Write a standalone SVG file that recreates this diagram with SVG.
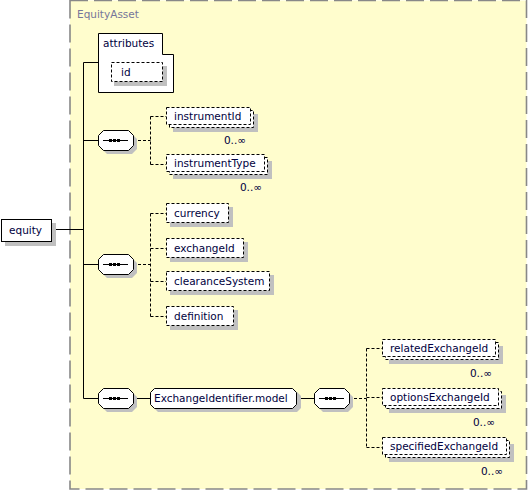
<svg xmlns="http://www.w3.org/2000/svg" width="528" height="491" viewBox="0 0 528 491">
<defs>
<style>
.t{font-family:"DejaVu Sans","Verdana",sans-serif;font-size:10.5px;fill:#000040}
.occ{font-family:"DejaVu Sans","Verdana",sans-serif;font-size:10.5px;fill:#000040;text-anchor:end}
.sh{fill:#c0c0c0;stroke:none}
.box{fill:#ffffff;stroke:#000000;stroke-width:1}
.opt{fill:#ffffff;stroke:#000000;stroke-width:1;stroke-dasharray:3 2}
.ln{stroke:#000000;stroke-width:1;fill:none}
.dln{stroke:#000000;stroke-width:1;fill:none;stroke-dasharray:3 2}
.dot{fill:#000000}
</style>
<path id="oct" d="M5,0 H30 L35,5 V15 L30,20 H5 L0,15 V5 Z"/>
</defs>
<rect width="528" height="491" fill="#ffffff"/>
<g id="EquityAsset">
<rect x="70" y="0.5" width="456.5" height="488.5" fill="#fffdcd" stroke="#888888" stroke-width="1.6" stroke-dasharray="18 6"/>
<text x="77" y="18" class="t" style="fill:#76769a">EquityAsset</text>
</g>
<g id="connectors">
<line x1="52" y1="229.5" x2="83.5" y2="229.5" class="ln"/>
<line x1="83.5" y1="62.5" x2="83.5" y2="398.5" class="ln"/>
<line x1="83.5" y1="62.5" x2="98" y2="62.5" class="ln"/>
<line x1="83.5" y1="140.5" x2="98" y2="140.5" class="ln"/>
<line x1="83.5" y1="264.5" x2="98" y2="264.5" class="ln"/>
<line x1="83.5" y1="398.5" x2="98" y2="398.5" class="ln"/>
<line x1="133" y1="140.5" x2="150.5" y2="140.5" class="dln"/>
<line x1="150.5" y1="116.5" x2="150.5" y2="164.5" class="dln"/>
<line x1="150.5" y1="116.5" x2="166" y2="116.5" class="dln"/>
<line x1="150.5" y1="164.5" x2="166" y2="164.5" class="dln"/>
<line x1="133" y1="264.5" x2="150.5" y2="264.5" class="dln"/>
<line x1="150.5" y1="213.5" x2="150.5" y2="316.5" class="dln"/>
<line x1="150.5" y1="213.5" x2="166" y2="213.5" class="dln"/>
<line x1="150.5" y1="248.5" x2="166" y2="248.5" class="dln"/>
<line x1="150.5" y1="281.5" x2="166" y2="281.5" class="dln"/>
<line x1="150.5" y1="316.5" x2="166" y2="316.5" class="dln"/>
<line x1="133" y1="398.5" x2="150" y2="398.5" class="ln"/>
<line x1="297" y1="398.5" x2="314" y2="398.5" class="ln"/>
<line x1="349" y1="398.5" x2="366.5" y2="398.5" class="dln"/>
<line x1="366.5" y1="348.5" x2="366.5" y2="447.5" class="dln"/>
<line x1="366.5" y1="348.5" x2="382" y2="348.5" class="dln"/>
<line x1="366.5" y1="397.5" x2="382" y2="397.5" class="dln"/>
<line x1="366.5" y1="447.5" x2="382" y2="447.5" class="dln"/>
</g>
<g id="equity">
<rect x="5" y="223" width="51" height="23" class="sh"/>
<rect x="1.5" y="219.5" width="50" height="22" class="box"/>
<text x="9" y="234" class="t">equity</text>
</g>
<g id="attributes">
<path d="M98.5,33.5 H162.5 V54.5 H173.5 V92.5 H98.5 Z" class="box"/>
<text x="103" y="47" class="t">attributes</text>
<g id="attr-id">
<rect x="114" y="66" width="53" height="20" class="sh"/>
<rect x="111.5" y="62.5" width="51" height="19" class="opt"/>
<text x="121" y="76" class="t">id</text>
</g>
</g>
<g id="seq1">
<use href="#oct" x="102" y="134" class="sh"/>
<use href="#oct" x="98.5" y="130.5" class="box"/>
<line x1="103" y1="140.5" x2="128" y2="140.5" class="ln"/>
<rect x="109" y="139" width="3" height="3" class="dot"/><rect x="113" y="139" width="3" height="3" class="dot"/><rect x="117" y="139" width="3" height="3" class="dot"/>
</g>
<g id="instrumentId">
<rect x="173" y="114" width="85" height="18" class="sh"/>
<rect x="169.5" y="110.5" width="84" height="17" class="opt"/>
<rect x="166.5" y="107.5" width="84" height="17" class="opt"/>
<text x="174" y="120" class="t">instrumentId</text>
<text x="246" y="144" class="occ">0..∞</text>
</g>
<g id="instrumentType">
<rect x="173" y="161" width="99" height="18" class="sh"/>
<rect x="169.5" y="157.5" width="98" height="17" class="opt"/>
<rect x="166.5" y="154.5" width="98" height="17" class="opt"/>
<text x="174" y="167" class="t">instrumentType</text>
<text x="262" y="191" class="occ">0..∞</text>
</g>
<g id="seq2">
<use href="#oct" x="102" y="258" class="sh"/>
<use href="#oct" x="98.5" y="254.5" class="box"/>
<line x1="103" y1="264.5" x2="128" y2="264.5" class="ln"/>
<rect x="109" y="263" width="3" height="3" class="dot"/><rect x="113" y="263" width="3" height="3" class="dot"/><rect x="117" y="263" width="3" height="3" class="dot"/>
</g>
<g id="currency">
<rect x="170" y="207" width="63" height="20" class="sh"/>
<rect x="166.5" y="203.5" width="62" height="19" class="opt"/>
<text x="174" y="217" class="t">currency</text>
</g>
<g id="exchangeId">
<rect x="170" y="242" width="78" height="20" class="sh"/>
<rect x="166.5" y="238.5" width="77" height="19" class="opt"/>
<text x="174" y="252" class="t">exchangeId</text>
</g>
<g id="clearanceSystem">
<rect x="170" y="275" width="104" height="20" class="sh"/>
<rect x="166.5" y="271.5" width="103" height="19" class="opt"/>
<text x="174" y="285" class="t">clearanceSystem</text>
</g>
<g id="definition">
<rect x="170" y="310" width="68" height="20" class="sh"/>
<rect x="166.5" y="306.5" width="67" height="19" class="opt"/>
<text x="174" y="320" class="t">definition</text>
</g>
<g id="seq3">
<use href="#oct" x="102" y="392" class="sh"/>
<use href="#oct" x="98.5" y="388.5" class="box"/>
<line x1="103" y1="398.5" x2="128" y2="398.5" class="ln"/>
<rect x="109" y="397" width="3" height="3" class="dot"/><rect x="113" y="397" width="3" height="3" class="dot"/><rect x="117" y="397" width="3" height="3" class="dot"/>
</g>
<g id="ExchangeIdentifier.model">
<path d="M158,392 H297 L301,396 V408 L297,412 H158 L154,408 V396 Z" class="sh"/>
<path d="M154.5,388.5 H292.5 L296.5,392.5 V404.5 L292.5,408.5 H154.5 L150.5,404.5 V392.5 Z" class="box"/>
<text x="154" y="402" class="t">ExchangeIdentifier.model</text>
</g>
<g id="seq4">
<use href="#oct" x="318" y="392" class="sh"/>
<use href="#oct" x="314.5" y="388.5" class="box"/>
<line x1="319" y1="398.5" x2="344" y2="398.5" class="ln"/>
<rect x="325" y="397" width="3" height="3" class="dot"/><rect x="329" y="397" width="3" height="3" class="dot"/><rect x="333" y="397" width="3" height="3" class="dot"/>
</g>
<g id="relatedExchangeId">
<rect x="389" y="346" width="114" height="18" class="sh"/>
<rect x="385.5" y="342.5" width="113" height="17" class="opt"/>
<rect x="382.5" y="339.5" width="113" height="17" class="opt"/>
<text x="390" y="352" class="t">relatedExchangeId</text>
<text x="492" y="377" class="occ">0..∞</text>
</g>
<g id="optionsExchangeId">
<rect x="389" y="395" width="117" height="18" class="sh"/>
<rect x="385.5" y="391.5" width="116" height="17" class="opt"/>
<rect x="382.5" y="388.5" width="116" height="17" class="opt"/>
<text x="390" y="401" class="t">optionsExchangeId</text>
<text x="495" y="426" class="occ">0..∞</text>
</g>
<g id="specifiedExchangeId">
<rect x="389" y="444" width="125" height="18" class="sh"/>
<rect x="385.5" y="440.5" width="124" height="17" class="opt"/>
<rect x="382.5" y="437.5" width="124" height="17" class="opt"/>
<text x="390" y="450" class="t">specifiedExchangeId</text>
<text x="503" y="475" class="occ">0..∞</text>
</g>
</svg>
